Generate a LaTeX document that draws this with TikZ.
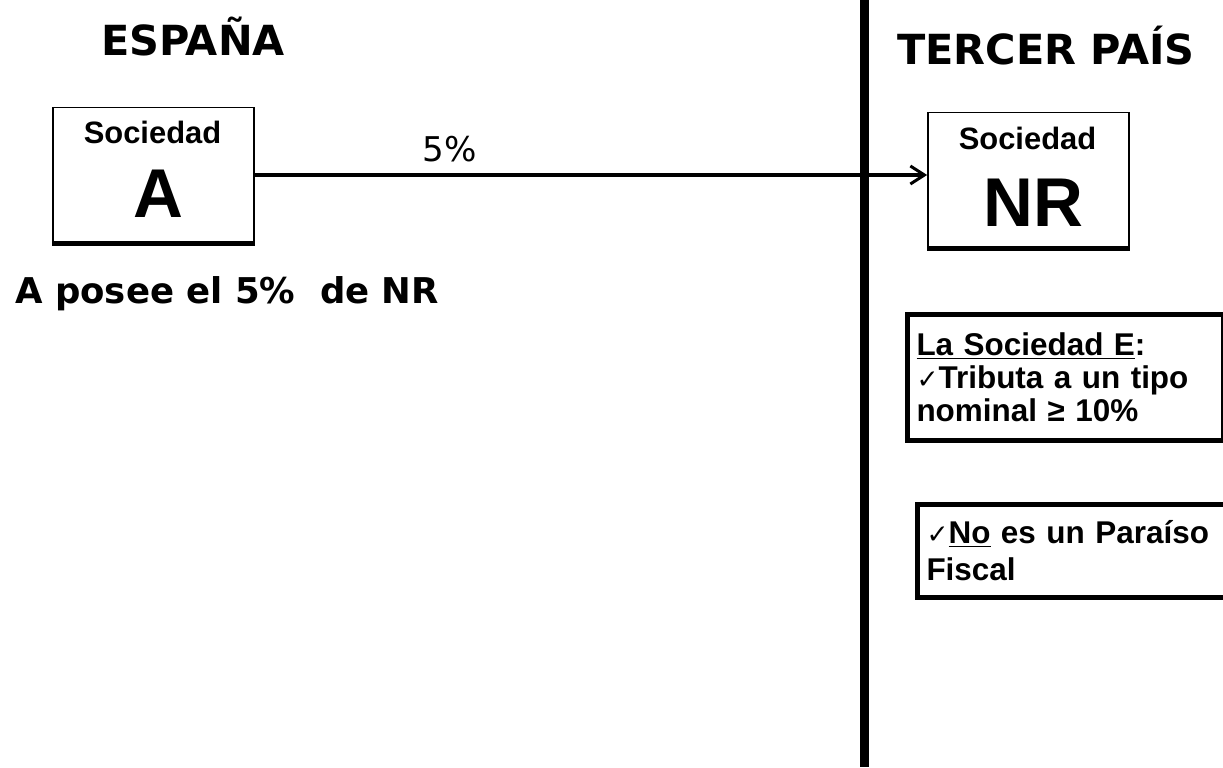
\documentclass[tikz,border=0pt]{standalone}
\usepackage{fontspec}
\setmainfont{Liberation Sans}
\newfontfamily\verdana{DejaVu Sans}
\newfontfamily\tickfont{DejaVu Sans}
\usetikzlibrary{arrows.meta}

\tikzset{
  pais/.style={anchor=base, inner sep=0pt, font=\verdana\bfseries\fontsize{23.6pt}{28pt}\selectfont},
  sociedad/.style={draw, line width=0.035cm, minimum width=4.02cm, minimum height=2.7cm, inner sep=0pt},
  socname/.style={anchor=base, inner sep=0pt, font=\bfseries\fontsize{17.6pt}{20pt}\selectfont},
  socletra/.style={anchor=base, inner sep=0pt, font=\bfseries\fontsize{39.3pt}{44pt}\selectfont},
  requisito/.style={draw, line width=0.1cm, anchor=north west, align=left, inner xsep=0.18cm, inner ysep=0pt},
  flecha/.style={line width=0.065cm, -{Straight Barb[length=0.28cm,width=0.36cm,line width=0.06cm]}},
}
\newcommand{\tick}{{\tickfont\fontsize{15pt}{15pt}\selectfont ✓}}

\begin{document}
\begin{tikzpicture}[x=0.02cm, y=-0.02cm]
  \path[use as bounding box, clip] (0,0) rectangle (1223,767);

  % frontera
  \draw[line width=0.18cm] (864.5,0) -- (864.5,767);

  % paises
  \node[pais] (espana) at (193,56) {ESPAÑA};
  \node[pais] (tercero) at (1046,65) {TERCER PAÍS};

  % sociedad A
  \node[sociedad] (boxa) at (153.5,175) {};
  \draw[line width=0.11cm] (boxa.south west) -- (boxa.south east);
  \node[socname] (soca) at (152.5,143) {Sociedad};
  \node[socletra] (letraa) at (158,217) {A};

  % sociedad NR
  \node[sociedad] (boxnr) at (1028.5,180) {};
  \draw[line width=0.11cm] (boxnr.south west) -- (boxnr.south east);
  \node[socname] (socnr) at (1027.5,150) {Sociedad};
  \node[socletra] (letranr) at (1033.5,226) {NR};

  % participacion
  \draw[flecha] (boxa.east) -- node[pos=0.29, above=0.22cm, inner sep=0pt,
    font=\verdana\fontsize{19.4pt}{22pt}\selectfont] (pct) {5\%} (boxa.east -| boxnr.west);

  \node[anchor=base west, inner sep=0pt, font=\verdana\bfseries\fontsize{20.2pt}{24pt}\selectfont]
    (posee) at (15,303) {A posee el 5\%~~de NR};

  % requisitos
  \node[requisito, text width=5.96cm, minimum height=2.52cm,
    font=\bfseries\fontsize{17.9pt}{18.8pt}\selectfont] (reqe) at (905,312)
    {\underline{La Sociedad E}:\\ \tick Tributa a un tipo\\ nominal ≥ 10\%};
  \node[requisito, text width=6.6cm, minimum height=1.86cm,
    font=\bfseries\fontsize{17.9pt}{21pt}\selectfont] (reqf) at (915,502)
    {\tick\underline{No} es un Paraíso\\ Fiscal};

\end{tikzpicture}
\end{document}
